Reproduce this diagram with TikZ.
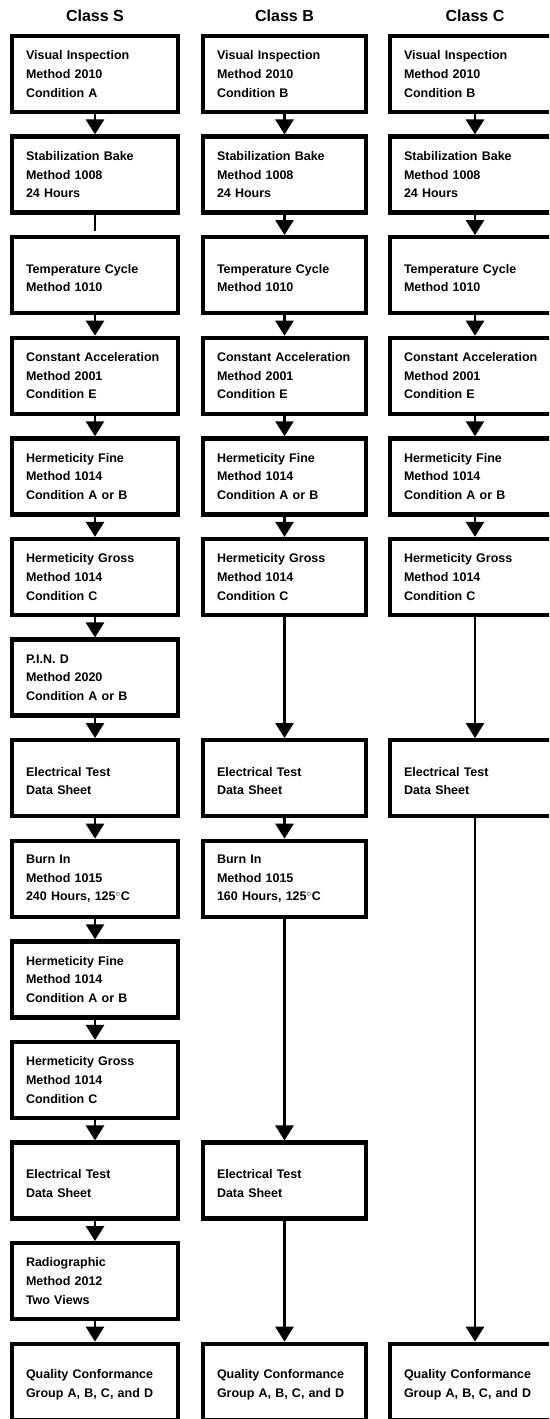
\documentclass[tikz,border=0pt]{standalone}
\usepackage{fontspec}
\setmainfont{Liberation Sans}
\newfontfamily\bodyfont{Liberation Sans}[BoldFont={* Bold}]
\usetikzlibrary{arrows.meta}
\tikzset{
  box/.style={draw, rectangle, line width=4.3pt, inner xsep=14pt, inner ysep=0pt,
    minimum height=76pt, align=left,
    font={\bodyfont\bfseries\fontsize{12.5}{18.7}\selectfont}},
  boxS/.style={box, text width=138pt},
  boxB/.style={box, text width=135pt},
  boxC/.style={box, text width=142pt},
  two/.style={execute at begin node={\rule{0pt}{15pt}}},
  title/.style={font={\bodyfont\bfseries\fontsize{16}{18}\selectfont}},
  conn/.style={line width=2.7pt, -{Triangle[width=18pt,length=15pt]}},
  stub/.style={line width=2.7pt}
}
\begin{document}
\begin{tikzpicture}[x=1pt,y=-1pt]
\useasboundingbox (0,0) rectangle (549,1419);
\clip (0,0) rectangle (549,1419);
\fill[white] (0,0) rectangle (549,1419);
% titles
\node[title] (tS) at (95,16) {Class S};
\node[title] (tB) at (284.5,16) {Class B};
\node[title] (tC) at (475,16) {Class C};
% Class S
\node[boxS] (s1)  at (95,74)     {Visual Inspection\\Method 2010\\Condition A};
\node[boxS] (s2)  at (95,174.6)  {Stabilization Bake\\Method 1008\\24 Hours};
\node[boxS,two] (s3)  at (95,275.2)  {Temperature Cycle\\Method 1010};
\node[boxS] (s4)  at (95,375.8)  {Constant Acceleration\\Method 2001\\Condition E};
\node[boxS] (s5)  at (95,476.4)  {Hermeticity Fine\\Method 1014\\Condition A or B};
\node[boxS] (s6)  at (95,577)    {Hermeticity Gross\\Method 1014\\Condition C};
\node[boxS] (s7)  at (95,677.6)  {P.I.N. D\\Method 2020\\Condition A or B};
\node[boxS,two] (s8)  at (95,778.2)  {Electrical Test\\Data Sheet};
\node[boxS] (s9)  at (95,878.8)  {Burn In\\Method 1015\\240 Hours, 125$^\circ$C};
\node[boxS] (s10) at (95,979.4)  {Hermeticity Fine\\Method 1014\\Condition A or B};
\node[boxS] (s11) at (95,1080)   {Hermeticity Gross\\Method 1014\\Condition C};
\node[boxS,two] (s12) at (95,1180.6) {Electrical Test\\Data Sheet};
\node[boxS] (s13) at (95,1281.2) {Radiographic\\Method 2012\\Two Views};
\node[boxS,two] (s14) at (95,1381.8) {Quality Conformance\\Group A, B, C, and D};
% Class B
\node[boxB] (b1)  at (284.5,74)     {Visual Inspection\\Method 2010\\Condition B};
\node[boxB] (b2)  at (284.5,174.6)  {Stabilization Bake\\Method 1008\\24 Hours};
\node[boxB,two] (b3)  at (284.5,275.2)  {Temperature Cycle\\Method 1010};
\node[boxB] (b4)  at (284.5,375.8)  {Constant Acceleration\\Method 2001\\Condition E};
\node[boxB] (b5)  at (284.5,476.4)  {Hermeticity Fine\\Method 1014\\Condition A or B};
\node[boxB] (b6)  at (284.5,577)    {Hermeticity Gross\\Method 1014\\Condition C};
\node[boxB,two] (b8)  at (284.5,778.2)  {Electrical Test\\Data Sheet};
\node[boxB] (b9)  at (284.5,878.8)  {Burn In\\Method 1015\\160 Hours, 125$^\circ$C};
\node[boxB,two] (b12) at (284.5,1180.6) {Electrical Test\\Data Sheet};
\node[boxB,two] (b14) at (284.5,1381.8) {Quality Conformance\\Group A, B, C, and D};
% Class C
\node[boxC] (c1)  at (475,74)     {Visual Inspection\\Method 2010\\Condition B};
\node[boxC] (c2)  at (475,174.6)  {Stabilization Bake\\Method 1008\\24 Hours};
\node[boxC,two] (c3)  at (475,275.2)  {Temperature Cycle\\Method 1010};
\node[boxC] (c4)  at (475,375.8)  {Constant Acceleration\\Method 2001\\Condition E};
\node[boxC] (c5)  at (475,476.4)  {Hermeticity Fine\\Method 1014\\Condition A or B};
\node[boxC] (c6)  at (475,577)    {Hermeticity Gross\\Method 1014\\Condition C};
\node[boxC,two] (c8)  at (475,778.2)  {Electrical Test\\Data Sheet};
\node[boxC,two] (c14) at (475,1381.8) {Quality Conformance\\Group A, B, C, and D};
% connectors S
\draw[conn] (s1.south) -- (s2.north);
\coordinate (s2end) at (95,231);
\draw[stub] (s2.south) -- (s2end);
\draw[conn] (s3.south) -- (s4.north);
\draw[conn] (s4.south) -- (s5.north);
\draw[conn] (s5.south) -- (s6.north);
\draw[conn] (s6.south) -- (s7.north);
\draw[conn] (s7.south) -- (s8.north);
\draw[conn] (s8.south) -- (s9.north);
\draw[conn] (s9.south) -- (s10.north);
\draw[conn] (s10.south) -- (s11.north);
\draw[conn] (s11.south) -- (s12.north);
\draw[conn] (s12.south) -- (s13.north);
\draw[conn] (s13.south) -- (s14.north);
% connectors B
\draw[conn] (b1.south) -- (b2.north);
\draw[conn] (b2.south) -- (b3.north);
\draw[conn] (b3.south) -- (b4.north);
\draw[conn] (b4.south) -- (b5.north);
\draw[conn] (b5.south) -- (b6.north);
\draw[conn] (b6.south) -- (b8.north);
\draw[conn] (b8.south) -- (b9.north);
\draw[conn] (b9.south) -- (b12.north);
\draw[conn] (b12.south) -- (b14.north);
% connectors C
\draw[conn] (c1.south) -- (c2.north);
\draw[conn] (c2.south) -- (c3.north);
\draw[conn] (c3.south) -- (c4.north);
\draw[conn] (c4.south) -- (c5.north);
\draw[conn] (c5.south) -- (c6.north);
\draw[conn] (c6.south) -- (c8.north);
\draw[conn] (c8.south) -- (c14.north);
\end{tikzpicture}
\end{document}
